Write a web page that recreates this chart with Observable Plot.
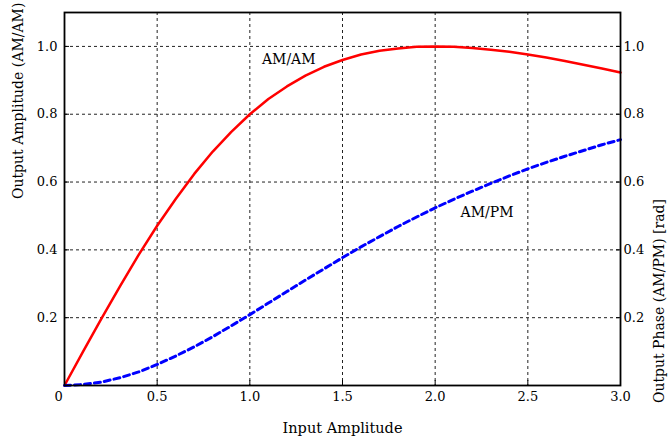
<!DOCTYPE html>
<html>
<head>
<meta charset="utf-8">
<script src="https://cdn.jsdelivr.net/npm/d3@7"></script>
<script src="https://cdn.jsdelivr.net/npm/@observablehq/plot@0.6"></script>
<style>
  html, body { margin: 0; padding: 0; background: white; }
</style>
</head>
<body>
<div id="chart"></div>
<script>
// Input amplitude samples
const inputAmp = [0.0, 0.1, 0.2, 0.3, 0.4, 0.5, 0.6, 0.7, 0.8, 0.9, 1.0,
                  1.1, 1.2, 1.3, 1.4, 1.5, 1.6, 1.7, 1.8, 1.9, 2.0,
                  2.1, 2.2, 2.3, 2.4, 2.5, 2.6, 2.7, 2.8, 2.9, 3.0];
// AM/AM output amplitude (left axis)
const amam = [0.000, 0.100, 0.198, 0.293, 0.385, 0.471, 0.550, 0.624, 0.690, 0.748, 0.800,
              0.845, 0.882, 0.914, 0.940, 0.960, 0.976, 0.987, 0.994, 0.999, 1.000,
              0.999, 0.995, 0.990, 0.984, 0.976, 0.967, 0.957, 0.946, 0.935, 0.923];
// AM/PM output phase in rad (right axis)
const ampm = [0.000, 0.003, 0.010, 0.023, 0.040, 0.062, 0.087, 0.114, 0.144, 0.176, 0.209,
              0.243, 0.277, 0.311, 0.344, 0.377, 0.409, 0.439, 0.469, 0.497, 0.524,
              0.549, 0.573, 0.596, 0.618, 0.639, 0.658, 0.676, 0.693, 0.710, 0.725];

const xTickValues = [0.5, 1.0, 1.5, 2.0, 2.5, 3.0];
const xGridValues = [0.5, 1.0, 1.5, 2.0, 2.5];
const yTickValues = [0.2, 0.4, 0.6, 0.8, 1.0];
const originLabel = ["0"];

const curveLabels = [
  {name: "AM/AM", x: 1.21, y: 0.96},
  {name: "AM/PM", x: 2.28, y: 0.51}
];

const table = inputAmp.map((x, i) => ({x, amam: amam[i], ampm: ampm[i]}));
const fmt = d3.format(".1f");

const chart = Plot.plot({
  width: 668,
  height: 437,
  marginLeft: 64,
  marginRight: 48,
  marginTop: 12,
  marginBottom: 52,
  x: {domain: [0, 3]},
  y: {domain: [0, 1.1]},
  style: {fontFamily: "'DejaVu Serif', serif", fontSize: "13px", background: "white", color: "black"},
  marks: [
    Plot.gridX({ticks: xGridValues, stroke: "#222", strokeOpacity: 1, strokeDasharray: "3,3"}),
    Plot.gridY({ticks: yTickValues, stroke: "#222", strokeOpacity: 1, strokeDasharray: "3,3"}),
    Plot.line(table, {x: "x", y: "amam", stroke: "#ff0000", strokeWidth: 2.5}),
    Plot.line(table, {x: "x", y: "ampm", stroke: "#0000ff", strokeWidth: 3, strokeDasharray: "6,4"}),
    Plot.frame({stroke: "black", strokeWidth: 1.8}),
    // inward ticks
    Plot.axisX({ticks: xGridValues, tickSize: 5, dy: -5, text: null, label: null}),
    Plot.axisY({anchor: "left", ticks: yTickValues, tickSize: 5, dx: 5, text: null, label: null}),
    Plot.axisY({anchor: "right", ticks: yTickValues, tickSize: 5, dx: -5, text: null, label: null}),
    // tick labels
    Plot.axisX({ticks: xTickValues, tickSize: 0, tickPadding: 6, tickFormat: fmt, label: null}),
    Plot.axisY({anchor: "left", ticks: yTickValues, tickSize: 0, tickPadding: 7, tickFormat: fmt, label: null}),
    Plot.axisY({anchor: "right", ticks: yTickValues, tickSize: 0, tickPadding: 3, tickFormat: fmt, label: null}),
    Plot.text(originLabel, {text: d => d, frameAnchor: "bottom-left", dx: -10, dy: 6, lineAnchor: "top"}),
    // axis titles
    Plot.text(["Input Amplitude"], {text: d => d, frameAnchor: "bottom", dy: 43, lineAnchor: "middle", fontSize: 14.5}),
    Plot.text(["Output Amplitude (AM/AM)"], {text: d => d, frameAnchor: "left", dx: -46, rotate: -90, lineAnchor: "middle", fontSize: 14}),
    Plot.text(["Output Phase (AM/PM) [rad]"], {text: d => d, frameAnchor: "right", dx: 39, rotate: -90, lineAnchor: "middle", fontSize: 14}),
    // curve labels
    Plot.text(curveLabels, {x: "x", y: "y", text: "name", fontSize: 14})
  ]
});
document.getElementById("chart").appendChild(chart);
</script>
</body>
</html>
